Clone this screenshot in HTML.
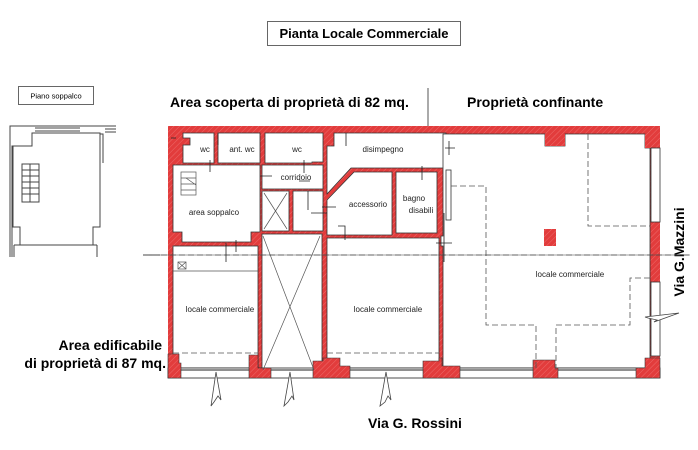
<!DOCTYPE html>
<html><head><meta charset="utf-8"><style>
html,body{margin:0;padding:0;background:#fff;}
svg{display:block;font-family:"Liberation Sans",Arial,sans-serif;}
</style></head><body>
<svg width="698" height="450" viewBox="0 0 698 450" xmlns="http://www.w3.org/2000/svg">
<defs>
<pattern id="h" width="4" height="4" patternUnits="userSpaceOnUse" patternTransform="rotate(45)">
<rect width="4" height="4" fill="#e23c3c"/><line x1="0" y1="0" x2="0" y2="4" stroke="#ec6a6a" stroke-width="1"/>
</pattern>
</defs>
<rect x="267.5" y="21.5" width="193" height="24" fill="#fff" stroke="#666"/>
<text x="364" y="38" font-size="13" font-weight="bold" text-anchor="middle">Pianta Locale Commerciale</text>
<rect x="18.5" y="86.5" width="75" height="18" fill="#fff" stroke="#666"/>
<text x="56" y="98.5" font-size="7.5" text-anchor="middle">Piano soppalco</text>
<text x="170" y="107" font-size="14" font-weight="bold">Area scoperta di proprietà di 82 mq.</text>
<text x="467" y="107" font-size="14" font-weight="bold">Proprietà confinante</text>
<line x1="428" y1="88" x2="428" y2="126" stroke="#555"/>
<text x="162" y="350" font-size="14" font-weight="bold" text-anchor="end">Area edificabile</text>
<text x="166" y="368" font-size="14" font-weight="bold" text-anchor="end">di proprietà di 87 mq.</text>
<text x="368" y="428" font-size="14" font-weight="bold">Via G. Rossini</text>
<text transform="translate(684,252) rotate(-90)" font-size="14" font-weight="bold" text-anchor="middle">Via G.Mazzini</text>

<g fill="none" stroke="#444" stroke-width="1">
<path d="M10 257 V126 H116 M12 257 V146 H32 V133 H100 V134"/>
<path d="M35 126 H80 M35 128 H80 M35 131 H80 M35 133 H80"/>
<path d="M105 126 H116 M105 129 H116 M105 132 H116 M100 134 H103 V163"/>
<path d="M13 146 V227 H20 V245 M100 133 V227 H93 V245"/>
<path d="M14 245 H97 M14 257 V245 M97 257 V245"/>
<rect x="22" y="164" width="17" height="38"/>
<path d="M22 170 H39 M22 176 H39 M22 182 H39 M22 188 H39 M22 194 H39 M30 164 V202"/>
<path d="M143 255 H160"/>
</g>

<rect x="168" y="126" width="492" height="252" fill="url(#h)"/>
<g fill="#fff" stroke="#333" stroke-width="0.8">
<path d="M183 133 H214 V163 H183 V145 H190 V138 H183Z"/>
<rect x="218" y="133" width="42" height="30"/>
<path d="M265 133 H323 V162 H312 V163 H265Z"/>
<path d="M173 165 H260 V232 H251 V242 H182 V232 H173Z"/>
<rect x="262" y="165" width="61" height="24"/>
<rect x="262" y="191" width="27" height="40"/>
<rect x="293" y="191" width="30" height="40"/>
<rect x="262" y="234" width="60" height="136"/>
<rect x="173" y="246" width="85" height="122"/>
<path d="M327 146 H334 V133 H446 V168 H351 L327 194 Z"/>
<path d="M327 200 L354 172 H392 V235 H327Z"/>
<rect x="396" y="172" width="41" height="61"/>
<path d="M327 238 H439 V368 H327Z"/>
<path d="M443 134 H545 V146 H565 V134 H645 V148 H650 V368 H443 V246 H441 V236 H443 Z"/>
</g>
<rect x="544" y="229" width="12" height="17" fill="url(#h)"/>
<rect x="545" y="134" width="20" height="12" fill="url(#h)"/>
<rect x="645" y="134" width="15" height="14" fill="url(#h)"/>
<g fill="#fff" stroke="#333" stroke-width="0.8">
<rect x="651" y="148" width="9" height="74"/>
<rect x="651" y="282" width="9" height="74"/>
<rect x="446" y="170" width="5" height="50"/>
</g>
<rect x="168" y="368" width="492" height="10" fill="#fff" stroke="#222" stroke-width="0.8"/>
<line x1="168" y1="370" x2="660" y2="370" stroke="#222" stroke-width="1"/>
<g fill="url(#h)" stroke="#333" stroke-width="0.6">
<path d="M168 354 H179 V363 H181 V378 H168Z"/>
<path d="M249 355 H258 V368 H271 V378 H249Z"/>
<path d="M313 361 H323 V358 H340 V366 H350 V378 H313Z"/>
<path d="M423 361 H439 V358 H442 V366 H460 V378 H423Z"/>
<path d="M533 360 H555 V368 H558 V378 H533Z"/>
<path d="M636 368 H645 V358 H660 V378 H636Z"/>
</g>
<g stroke="#555" stroke-width="0.7" fill="none">
<path d="M264 193 L287 229 M287 193 L264 229"/>
<path d="M263 236 L314 370 M320 236 L263 370"/>
<rect x="181" y="172" width="15" height="23"/>
<path d="M181 178 H196 M181 184 H196 M181 190 H196 M186 178 L196 185"/>
<rect x="178" y="262" width="8" height="7"/>
<path d="M178 262 L186 269 M186 262 L178 269"/>
<path d="M173 271 H258"/>
</g>
<g stroke="#555" stroke-width="0.8" stroke-dasharray="6,3" fill="none">
<line x1="143" y1="255" x2="690" y2="255"/>
<path d="M173 353 H258 M327 353 H439"/>
<path d="M451 186 H486 V325 H536 V370 M556 370 V325 H630 V278 H650"/>
<path d="M588 134 V226 H650"/>
</g>
<line x1="143" y1="255" x2="690" y2="255" stroke="#444" stroke-width="0.6"/>
<g stroke="#222" stroke-width="0.8" fill="none">
<path d="M210 160 V172 M226 243 V262 M236 240 V252 M260 176 H272 M299 181 H310 M304 160 V173 M308 191 V210 M311 213 H327 M322 207 H336 M338 226 H345 V240 M444 213 V262 M436 243 H452 M445 148 H455 M449 141 V155 M346 133 V146 M422 166 V180 M218 133 V145 M171 138 H176"/>
</g>
<g font-size="8" fill="#222" text-anchor="middle">
<text x="205" y="152">wc</text>
<text x="242" y="152">ant. wc</text>
<text x="297" y="152">wc</text>
<text x="383" y="152">disimpegno</text>
<text x="296" y="180">corridoio</text>
<text x="368" y="207">accessorio</text>
<text x="414" y="201">bagno</text>
<text x="421" y="213">disabili</text>
<text x="214" y="215">area soppalco</text>
<text x="220" y="312">locale commerciale</text>
<text x="388" y="312">locale commerciale</text>
<text x="570" y="277">locale commerciale</text>
</g>
<g fill="#fff" stroke="#444" stroke-width="0.8">
<path d="M211 406 L216 372 L221 400 L218 396 L214 402 Z"/>
<path d="M284 406 L290 372 L294 400 L292 396 L288 402 Z"/>
<path d="M380 406 L386 372 L391 400 L388 396 L385 402 Z"/>
<path d="M645 317 L679 313 L654 322 L657 320 L648 318 Z"/>
</g>
</svg>
</body></html>
